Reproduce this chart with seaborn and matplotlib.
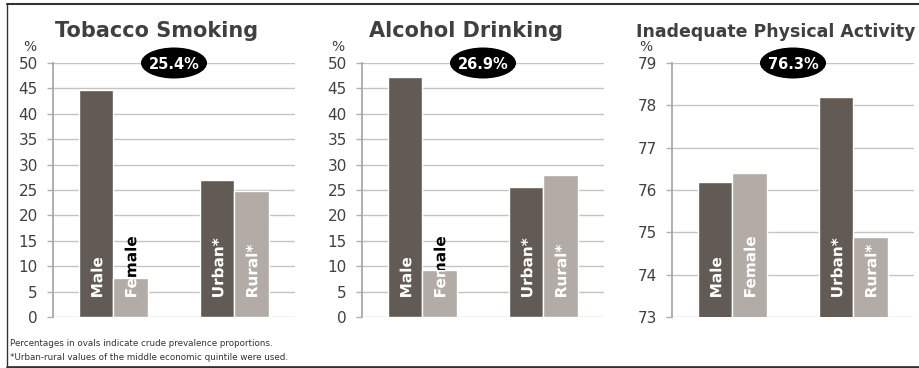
import numpy as np
import pandas as pd
import matplotlib
matplotlib.use("Agg")
import matplotlib.pyplot as plt
import matplotlib.transforms as mtransforms
from matplotlib.patches import Ellipse, Rectangle, PathPatch
from matplotlib.lines import Line2D
from matplotlib.textpath import TextPath
from matplotlib.font_manager import FontProperties
import seaborn as sns

# Data
titles = ["Tobacco Smoking", "Alcohol Drinking", "Inadequate Physical Activity"]
crude = ["25.4%", "26.9%", "76.3%"]
groups = ["Sex", "Sex", "Region", "Region"]
levels = ["a", "b", "a", "b"]
bar_labels = ["Male", "Female", "Urban*", "Rural*"]
tobacco = [44.6, 7.6, 26.9, 24.8]
alcohol = [47.3, 9.3, 25.6, 27.9]
activity = [76.2, 76.4, 78.2, 74.9]
values = [tobacco, alcohol, activity]
ylims = [(0, 50), (0, 50), (73, 79)]
yticks = [np.arange(0, 51, 5), np.arange(0, 51, 5), np.arange(73, 80, 1)]
notes = ["Percentages in ovals indicate crude prevalence proportions.",
         "*Urban-rural values of the middle economic quintile were used."]

sns.set_theme(style="white")
plt.rcParams['font.family'] = ['DejaVu Sans']

dark, light = "#625a55", "#b2aba6"
txt = "#404040"
W, H = 920, 368
DPI = 100

fig = plt.figure(figsize=(9.2, 3.68), dpi=DPI)
lefts = [53, 362, 672]
title_sizes = [15, 15, 12.5]
pct_x = [30, 338, 646]
label_font = FontProperties(family="DejaVu Sans", weight="bold")


def vertical_label(ax, x, y_axes, text, size):
    # text as a path, rotated 90 deg, bottom-centred at (x data, y axes)
    tp = TextPath((0, 0), text, size=size, prop=label_font)
    ext = tp.get_extents()
    base = trans = mtransforms.blended_transform_factory(ax.transData, ax.transAxes)
    px, py = base.transform((x, y_axes))
    tr = (mtransforms.Affine2D()
          .rotate_deg(90)
          .translate((ext.y0 + ext.y1) / 2, -ext.x0)
          .scale(DPI / 72)
          .translate(px, py))
    return tp, tr


for k in range(3):
    ax = fig.add_axes([lefts[k] / W, 1 - 317 / H, 242 / W, 254 / H])
    df = pd.DataFrame({"group": groups, "level": levels, "value": values[k]})
    sns.barplot(data=df, x="group", y="value", hue="level", order=["Sex", "Region"],
                hue_order=["a", "b"], palette=[dark, light], width=0.562,
                saturation=1, legend=False, ax=ax, zorder=2)
    lo, hi = ylims[k]
    ax.set_ylim(lo, hi)
    ax.set_yticks(yticks[k])
    ax.set_xlim(-0.5, 1.5)
    ax.set_xticks([])
    ax.set_xlabel("")
    ax.set_ylabel("")
    ax.yaxis.grid(True, color="#c4c4c4", lw=1)
    ax.set_axisbelow(True)
    for s in ["top", "right", "bottom"]:
        ax.spines[s].set_visible(False)
    ax.spines["left"].set_color("#a6a6a6")
    ax.tick_params(axis="y", left=True, length=4, width=1, color="#b0b0b0",
                   labelsize=11, labelcolor=txt, pad=7)

    # labels inside bars: white on the bar, black where they stick out above it
    for i, cont in enumerate(ax.containers):
        for j, bar in enumerate(cont):
            lab = bar_labels[j * 2 + i]
            x = bar.get_x() + bar.get_width() / 2
            top = bar.get_height()
            tp, tr = vertical_label(ax, x, 0.079, lab, 11)
            above = Rectangle((bar.get_x() - 0.1, top), bar.get_width() + 0.2,
                              (hi - lo), transform=ax.transData)
            pb = PathPatch(tp, transform=tr, facecolor="black", edgecolor="none", zorder=4)
            fig.add_artist(pb)
            pb.set_clip_path(above)
            pw = PathPatch(tp, transform=tr, facecolor="white", edgecolor="none", zorder=4)
            fig.add_artist(pw)
            pw.set_clip_path(bar)

    # oval with crude prevalence
    ax.add_patch(Ellipse((0.5, 1.0), 0.273, 0.122, transform=ax.transAxes,
                         facecolor="black", edgecolor="none", clip_on=False, zorder=5))
    ax.text(0.5, 1.0, crude[k], transform=ax.transAxes, ha="center", va="center_baseline",
            color="white", fontsize=10.5, fontweight="bold", zorder=6)

    fig.text((lefts[k] + 0.43 * 242) / W, 1 - 37 / H, titles[k], ha="center", va="baseline",
             fontsize=title_sizes[k], fontweight="bold", color=txt)
    fig.text(pct_x[k] / W, 1 - 47 / H, "%", ha="center", va="center",
             fontsize=10, color=txt)

fig.text(10 / W, 1 - 343 / H, notes[0], ha="left", va="center", fontsize=6.3, color="#333333")
fig.text(10 / W, 1 - 358 / H, notes[1], ha="left", va="center", fontsize=6.3, color="#333333")

# frame: top, left and bottom edges
fr = "#333333"
fig.add_artist(Line2D([7 / W, 1], [1 - 4 / H, 1 - 4 / H], color=fr, lw=1.5, transform=fig.transFigure))
fig.add_artist(Line2D([7 / W, 7 / W], [1 - 4 / H, 1 - 366.5 / H], color=fr, lw=1, transform=fig.transFigure))
fig.add_artist(Line2D([7 / W, 1], [1 - 366.5 / H, 1 - 366.5 / H], color=fr, lw=2, transform=fig.transFigure))

fig.savefig("out.png", dpi=DPI)
